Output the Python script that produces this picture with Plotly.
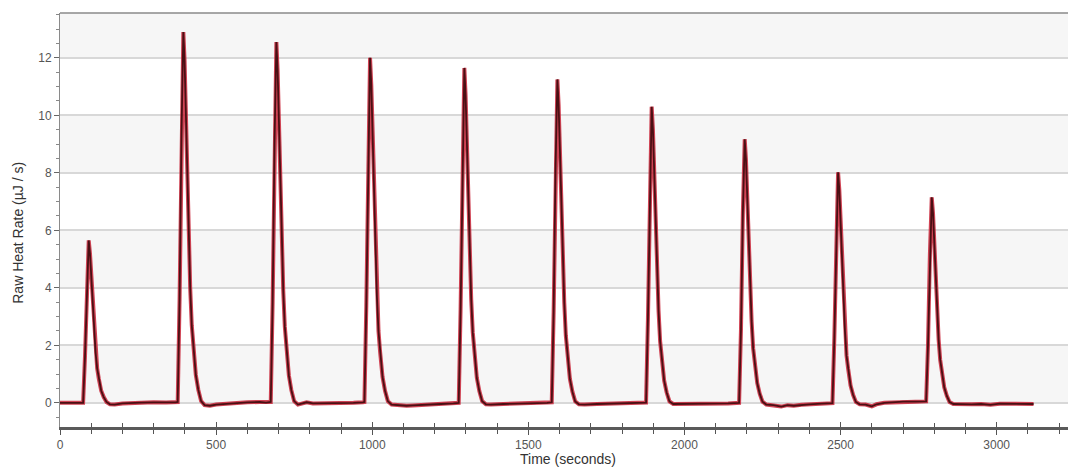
import plotly.graph_objects as go

# Time (s) and raw heat rate (µJ/s)
time_s = [
    0, 74, 80, 86, 90, 92, 96, 101, 106, 110, 114, 119, 124, 132, 140, 149, 160, 175, 200, 230, 260, 300, 340, 370, 377,
    383, 389, 393, 395, 399, 404, 409, 413, 417, 422, 427, 435, 443, 452, 463, 480, 500, 530, 560, 600, 640, 660, 675,
    681, 687, 691, 693, 697, 702, 707, 711, 715, 720, 725, 733, 741, 750, 762, 775, 790, 810, 850, 900, 940, 970, 975,
    981, 987, 991, 993, 997, 1002, 1007, 1011, 1015, 1020, 1025, 1033, 1041, 1050, 1062, 1080, 1110, 1130, 1170, 1220, 1260, 1277,
    1283, 1289, 1293, 1295, 1299, 1304, 1309, 1313, 1317, 1322, 1327, 1335, 1343, 1352, 1364, 1380, 1420, 1470, 1520, 1560, 1575,
    1581, 1587, 1591, 1593, 1597, 1602, 1607, 1611, 1615, 1620, 1625, 1633, 1641, 1650, 1662, 1680, 1720, 1770, 1820, 1860, 1877,
    1883, 1889, 1893, 1895, 1899, 1904, 1909, 1913, 1917, 1922, 1927, 1935, 1943, 1952, 1964, 1990, 2040, 2090, 2140, 2175,
    2181, 2187, 2191, 2193, 2197, 2202, 2207, 2211, 2215, 2220, 2225, 2233, 2241, 2250, 2262, 2285, 2310, 2330, 2350, 2375, 2400, 2440, 2474,
    2480, 2486, 2490, 2492, 2496, 2501, 2506, 2510, 2514, 2519, 2524, 2532, 2540, 2549, 2561, 2580, 2600, 2615, 2640, 2670, 2700, 2740, 2774,
    2780, 2786, 2790, 2792, 2796, 2801, 2806, 2810, 2814, 2819, 2824, 2832, 2840, 2849, 2861, 2880, 2920, 2950, 2980, 3010, 3050, 3080, 3118,
]
heat_rate = [
    0.0, 0.0, 1.6, 4.1, 5.4, 5.65, 5.2, 4.2, 3.15, 2.4, 1.75, 1.2, 0.85, 0.42, 0.2, 0.03, -0.05, -0.06, -0.02, 0.0, 0.01, 0.02, 0.01, 0.02, 0.03,
    3.6, 9.3, 12.4, 12.9, 11.9, 9.5, 7.2, 5.4, 4.0, 2.7, 1.95, 0.97, 0.45, 0.06, -0.08, -0.1, -0.06, -0.03, 0.0, 0.02, 0.03, 0.01, 0.03,
    3.5, 9.0, 12.05, 12.55, 11.55, 9.3, 7.0, 5.3, 3.9, 2.65, 1.9, 0.95, 0.44, 0.06, -0.06, -0.02, 0.02, -0.02, -0.02, -0.01, 0.0, 0.02, 0.03,
    3.35, 8.65, 11.5, 12.0, 11.05, 8.9, 6.7, 5.05, 3.7, 2.5, 1.8, 0.9, 0.42, 0.06, -0.06, -0.08, -0.1, -0.09, -0.06, -0.04, -0.02, 0.0,
    3.25, 8.4, 11.2, 11.65, 10.7, 8.6, 6.5, 4.9, 3.6, 2.45, 1.75, 0.87, 0.41, 0.06, -0.05, -0.06, -0.04, -0.03, -0.01, 0.0, 0.02,
    3.15, 8.1, 10.8, 11.25, 10.35, 8.3, 6.3, 4.7, 3.5, 2.35, 1.7, 0.84, 0.39, 0.05, -0.05, -0.06, -0.04, -0.03, -0.02, 0.0, 0.01,
    2.9, 7.4, 9.9, 10.3, 9.5, 7.6, 5.75, 4.3, 3.2, 2.15, 1.55, 0.77, 0.36, 0.05, -0.04, -0.04, -0.03, -0.03, -0.02, 0.0,
    2.55, 6.6, 8.8, 9.17, 8.45, 6.8, 5.1, 3.85, 2.85, 1.9, 1.4, 0.69, 0.32, 0.04, -0.06, -0.08, -0.13, -0.08, -0.1, -0.07, -0.05, -0.03, -0.01,
    2.25, 5.8, 7.7, 8.02, 7.4, 5.95, 4.5, 3.35, 2.5, 1.65, 1.2, 0.6, 0.28, 0.03, -0.05, -0.06, -0.12, -0.05, 0.0, 0.02, 0.04, 0.04, 0.05,
    2.0, 5.15, 6.85, 7.15, 6.6, 5.3, 4.0, 3.0, 2.2, 1.5, 1.1, 0.54, 0.25, 0.03, -0.04, -0.05, -0.05, -0.04, -0.07, -0.03, -0.03, -0.04, -0.04,
]

x_range = [0, 3254]
y_range = [-0.84, 13.56]
band_starts = [0, 4, 8, 12]
x_ticks = [0, 500, 1000, 1500, 2000, 2500, 3000]
y_ticks = [0, 2, 4, 6, 8, 10, 12]

FONT = "Liberation Sans, Arial, sans-serif"

fig = go.Figure()
# outer red glow
fig.add_trace(go.Scatter(x=time_s, y=heat_rate, mode="lines",
                         line=dict(color="rgba(200,35,55,0.85)", width=4),
                         hoverinfo="skip", showlegend=False))
# dark core
fig.add_trace(go.Scatter(x=time_s, y=heat_rate, mode="lines",
                         line=dict(color="#4a1014", width=1.8),
                         showlegend=False))
# invisible trace to activate overlay axis for crossing ticks
fig.add_trace(go.Scatter(x=[time_s[0]], y=[heat_rate[0]], xaxis="x2", mode="markers",
                         marker=dict(opacity=0), hoverinfo="skip", showlegend=False))

shapes = []
for b in band_starts:
    shapes.append(dict(type="rect", xref="paper", yref="y", x0=0, x1=1, y0=b, y1=min(b + 2, y_range[1]),
                       fillcolor="#f6f6f6", line=dict(width=0), layer="below"))
shapes.append(dict(type="line", xref="paper", yref="paper", x0=0, x1=1, y0=1, y1=1,
                   line=dict(color="#8a8a8a", width=1.5)))

annotations = [
    dict(text="Time (seconds)", xref="paper", yref="paper", x=0.5, y=-0.077,
         xanchor="center", yanchor="middle", showarrow=False,
         font=dict(family=FONT, size=14, color="#333333")),
    dict(text="Raw Heat Rate (µJ / s)", xref="paper", yref="paper", x=-0.041, y=0.47,
         xanchor="center", yanchor="middle", showarrow=False, textangle=-90,
         font=dict(family=FONT, size=14, color="#333333")),
]

# the page body adds an 8px margin, so the figure is sized/offset to compensate
fig.update_layout(
    width=1068, height=460,
    margin=dict(l=52, r=0, t=5, b=41, autoexpand=False),
    paper_bgcolor="white", plot_bgcolor="white",
    font=dict(family=FONT, color="#555555", size=12),
    shapes=shapes,
    annotations=annotations,
    xaxis=dict(
        range=x_range, tickvals=x_ticks, automargin=False,
        ticks="outside", ticklen=5, tickwidth=1, tickcolor="#555555",
        minor=dict(dtick=100, tick0=0, ticks="outside", ticklen=4, tickcolor="#555555", showgrid=False),
        showline=True, linecolor="#5a5a5a", linewidth=3,
        showgrid=False, zeroline=False,
        tickfont=dict(size=12, color="#555555"),
    ),
    xaxis2=dict(
        range=x_range, overlaying="x", anchor="y", side="bottom", automargin=False,
        tickvals=x_ticks,
        ticks="inside", ticklen=5, tickwidth=1, tickcolor="#555555",
        minor=dict(dtick=100, tick0=0, ticks="inside", ticklen=4, tickcolor="#555555", showgrid=False),
        showticklabels=False, showgrid=False, zeroline=False, showline=False,
    ),
    yaxis=dict(
        range=y_range, tickvals=y_ticks, automargin=False,
        ticks="outside", ticklen=5, tickwidth=1, tickcolor="#666666",
        minor=dict(dtick=0.5, tick0=0, ticks="outside", ticklen=3, tickcolor="#888888", showgrid=False),
        showline=True, linecolor="#8a8a8a", linewidth=1,
        showgrid=True, gridcolor="#d8d8d8", gridwidth=1.5,
        zeroline=False,
        tickfont=dict(size=12, color="#555555"),
    ),
)

fig.write_html("out.html")
